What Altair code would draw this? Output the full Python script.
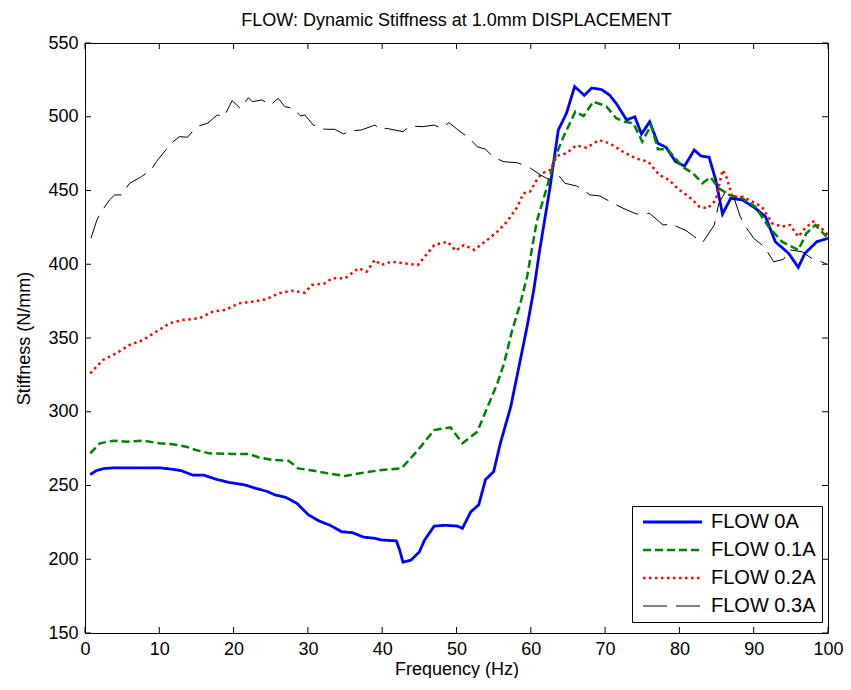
import altair as alt
import pandas as pd

# ---- data ----
series_names = ["FLOW 0A", "FLOW 0.1A", "FLOW 0.2A", "FLOW 0.3A"]
series_colors = ["#0000ff", "#008000", "#ff0000", "#000000"]
series_dash = [[1, 0], [8, 4], [2.5, 3.5], [24, 9]]
series_width = [2.8, 2.5, 2.5, 1.0]

blue_freq = [0.7, 1.5, 2.5, 4, 6, 8, 10, 11.8, 13, 14.5, 16, 17.8, 19.5, 21.6, 23, 24.5, 25.6, 27,
             28.5, 30.1, 31.5, 33, 34.5, 36, 37.5, 39, 40, 41.9, 42.3, 42.8, 43.9, 45, 45.7, 47,
             48.5, 50.1, 50.8, 51.9, 53, 53.9, 55, 55.9, 57.3, 58.4, 59.5, 60.4, 61.2, 62.6, 63.7,
             64.8, 65.9, 67.2, 68.2, 69.5, 70.6, 71.5, 72.9, 74, 74.9, 76, 77.1, 78.2, 79.5, 80.7,
             82, 82.9, 84, 84.9, 85.8, 86.9, 88.5, 90.2, 91.6, 92.9, 94.7, 96, 96.9, 98.5, 100]
blue_stiff = [257.4, 260, 261.5, 262, 262, 262, 262, 261, 260, 257, 257, 254, 252, 250.3, 248, 246,
              243.6, 242, 238, 230, 226, 223, 218.7, 218, 215, 214.2, 213, 212.5, 207, 198, 199.5,
              205, 213, 222.5, 223, 222.5, 221, 232, 237, 254, 259.4, 278.6, 303.4, 330.5, 357.7,
              382.5, 409.7, 452.6, 491, 502.3, 520.5, 514.5, 519.5, 518.5, 514.7, 509, 497.8, 500,
              488.3, 496.6, 482, 479.3, 469.5, 466.6, 477.5, 473.4, 472.5, 457, 434, 444.7, 443.6,
              438, 432.2, 415.3, 407.4, 397.9, 407.4, 415.3, 417.6]

green_freq = [0.7, 2, 3.8, 5.6, 7.8, 10, 11.8, 13.6, 14.9, 16.7, 19.8, 22.1, 23.4, 25.2, 27.4, 28.7,
              31, 33.2, 35, 36.8, 39.9, 42.6, 44.8, 47, 49.2, 50.8, 52.8, 54.1, 55.5, 56.4, 57.5,
              58.6, 59.5, 60.8, 62.2, 63.3, 64.4, 66, 67.1, 68.4, 69.7, 70.2, 71.5, 72.6, 73.8, 75,
              76.2, 77.1, 78.4, 80.4, 81.8, 83.1, 84.2, 85.3, 86.7, 88.5, 90.2, 92, 93.8, 96, 97.1,
              98.3, 99.8]
green_stiff = [271.8, 278.6, 280.4, 279.7, 280.4, 278.6, 278, 276.3, 274.1, 271.8, 271.4, 271.4, 269,
               267.3, 266.8, 261.6, 259.8, 257.8, 256.4, 258.2, 260.5, 261.6, 274, 287.6, 289.4,
               278.6, 286.5, 302.3, 319.3, 332.8, 355.4, 373.5, 391.6, 429, 452.6, 472.9, 486.5,
               503.5, 500.5, 510.2, 508, 506.8, 499, 496.6, 495.6, 483.1, 494.4, 478, 478, 466.1,
               461.7, 454.9, 459, 451.5, 447, 444.7, 439, 425.5, 415.3, 409.7, 421, 426.6, 418.7]

red_freq = [0.7, 2.4, 4.2, 6, 7.8, 9.6, 11.4, 13.1, 15.4, 17.2, 18.9, 20.7, 22.5, 24.3, 26.1, 27.8,
            29.6, 30.5, 32.3, 33.2, 35, 36.8, 37.9, 39, 39.9, 41.2, 44.8, 47, 48.8, 49.9, 51, 52.4,
            54.1, 55.5, 56.8, 58.2, 59, 59.9, 60.8, 61.5, 62.6, 63.5, 64.8, 66.1, 67.5, 69.2, 70.6,
            72.4, 74.1, 75.8, 77.3, 78.6, 80, 81.3, 82.7, 83.8, 84.9, 85.8, 86.4, 87.1, 88.5, 89.8,
            91.1, 92.5, 93.8, 94.9, 96, 96.9, 98, 98.9, 100]
red_stiff = [326, 335.1, 339.6, 345.3, 348.6, 354.3, 360, 362.2, 363.4, 367.9, 369, 373.5, 374.6,
             376.2, 380.3, 382.1, 380.7, 385.9, 387.1, 390.5, 390.5, 397.3, 395, 402.9, 399.5,
             401.7, 399.5, 413, 415.3, 409.2, 413, 409.7, 416.4, 422.1, 428.9, 439, 448.1, 449.2,
             457.1, 461.7, 463.9, 473.5, 475.2, 480.5, 479, 484.2, 482, 476.3, 471.8, 469.5, 460.5,
             457.1, 450.3, 445.8, 439, 437.9, 443.6, 463.9, 458.3, 445.8, 445.8, 442.4, 439, 427.7,
             425.5, 426.6, 418.7, 424.4, 428.9, 425.5, 419.8]

black_freq = [0.8, 1.6, 2.2, 3.3, 4, 4.9, 6, 7.6, 8.9, 9.6, 10.5, 11.6, 12.7, 13.8, 14.5, 15.4, 16.5,
              17.8, 18.7, 19.8, 20.9, 22, 22.5, 23.8, 25, 26, 26.9, 28.1, 29, 29.6, 30.7, 32.3, 33.6,
              34.8, 35.7, 37.2, 39, 39.9, 40.5, 42.8, 43.7, 45.5, 47, 47.9, 49, 50.1, 51.7, 52.8,
              53.9, 55, 56.4, 58.2, 59.8, 61.3, 62.6, 63.9, 64.6, 66.2, 68, 69.3, 71.1, 72.4, 74.2,
              76, 77.8, 78.9, 80.9, 82, 83.1, 83.8, 84.7, 85.3, 86.2, 87.3, 88.2, 88.9, 90, 91.4,
              92.7, 94, 94.9, 96.5, 97.8, 99.1, 99.8]
black_stiff = [417.6, 430, 435.6, 443.6, 447, 447, 454.9, 459.4, 463.9, 469.5, 475.2, 482, 486.5,
               486.1, 490.3, 493.9, 495.6, 501.2, 500, 510.9, 505.7, 512.9, 510.2, 511.4, 508, 512.5,
               506.8, 505.7, 500.5, 501.2, 494.4, 491.5, 491.5, 488.3, 490.5, 491, 494.4, 491, 492.2,
               489.9, 493.7, 493.3, 494.4, 492.2, 496, 491.5, 485.4, 479.7, 478, 472.5, 469.5, 468.8,
               465.7, 460.5, 457.1, 459.4, 454.9, 453, 447, 446.3, 441.3, 438, 434.1, 434.5, 426.6,
               427.3, 422.8, 418.7, 414.6, 419.8, 426.6, 441.3, 449.2, 445.8, 432.2, 425.5, 417.6,
               411.9, 401.7, 403.3, 409.7, 408.5, 404, 401.7, 400.2]

x_ticks = [0, 10, 20, 30, 40, 50, 60, 70, 80, 90, 100]
y_ticks = [150, 200, 250, 300, 350, 400, 450, 500, 550]

# ---- build table ----
frames = []
for i, (f, s) in enumerate([(blue_freq, blue_stiff), (green_freq, green_stiff),
                            (red_freq, red_stiff), (black_freq, black_stiff)]):
    frames.append(pd.DataFrame({"Frequency": f, "Stiffness": s, "Series": series_names[i],
                                "lw": series_width[i], "order": range(len(f))}))
df = pd.concat(frames, ignore_index=True)

W, H = 743, 590
FONT = "Liberation Sans"
FS = 18

leg = alt.Legend(
    title=None, orient="none", legendX=547, legendY=463, padding=6,
    strokeColor="black", fillColor="white",
    symbolType="M-0.5,0H5.4", symbolSize=400,
    symbolStrokeWidth=alt.expr(
        "datum.value === 'FLOW 0.3A' ? 1 : (datum.value === 'FLOW 0A' ? 2.8 : 2.5)"),
    labelFontSize=20, labelFont=FONT, labelColor="black",
    labelOffset=53, rowPadding=8, labelLimit=300,
)

xs = alt.Scale(domain=[0, 100], nice=False, zero=False)
ys = alt.Scale(domain=[150, 550], nice=False, zero=False)

lines = alt.Chart(df).mark_line(clip=True).encode(
    x=alt.X("Frequency:Q", scale=xs, title="Frequency (Hz)",
            axis=alt.Axis(values=x_ticks, format="d")),
    y=alt.Y("Stiffness:Q", scale=ys, title="Stiffness (N/mm)",
            axis=alt.Axis(values=y_ticks, format="d")),
    color=alt.Color("Series:N", sort=series_names,
                    scale=alt.Scale(domain=series_names, range=series_colors), legend=leg),
    strokeDash=alt.StrokeDash("Series:N", sort=series_names,
                              scale=alt.Scale(domain=series_names, range=series_dash), legend=leg),
    strokeWidth=alt.StrokeWidth("lw:Q", scale=None),
    order="order:Q",
)

xt = pd.DataFrame({"Frequency": x_ticks})
yt = pd.DataFrame({"Stiffness": y_ticks})

xtick_b = alt.Chart(xt).mark_rule(color="black", strokeWidth=1).encode(
    x="Frequency:Q", y=alt.value(H), y2=alt.value(H - 6))
xtick_t = alt.Chart(xt).mark_rule(color="black", strokeWidth=1).encode(
    x="Frequency:Q", y=alt.value(0), y2=alt.value(6))
ytick_l = alt.Chart(yt).mark_rule(color="black", strokeWidth=1).encode(
    y="Stiffness:Q", x=alt.value(0), x2=alt.value(6))
ytick_r = alt.Chart(yt).mark_rule(color="black", strokeWidth=1).encode(
    y="Stiffness:Q", x=alt.value(W), x2=alt.value(W - 6))

chart = alt.layer(lines, xtick_b, xtick_t, ytick_l, ytick_r).properties(
    width=W, height=H,
    title=alt.TitleParams("FLOW: Dynamic Stiffness at 1.0mm DISPLACEMENT",
                          fontSize=FS, font=FONT, fontWeight="normal", color="black", offset=4),
    autosize=alt.AutoSizeParams(type="none"),
    padding={"left": 77, "top": 35, "right": 15, "bottom": 45},
    background="white",
).configure_view(
    stroke="black", strokeWidth=1
).configure_axis(
    grid=False, ticks=False, tickSize=0, domainColor="black", domainWidth=1,
    labelFont=FONT, labelFontSize=FS, labelColor="black", labelPadding=7,
    titleFont=FONT, titleFontSize=FS, titleFontWeight="normal", titleColor="black",
).configure_axisX(titleY=41, titleBaseline="alphabetic", labelFlush=False
).configure_axisY(titlePadding=14)

chart.save("out.html", embed_options={"renderer": "svg", "actions": False})
